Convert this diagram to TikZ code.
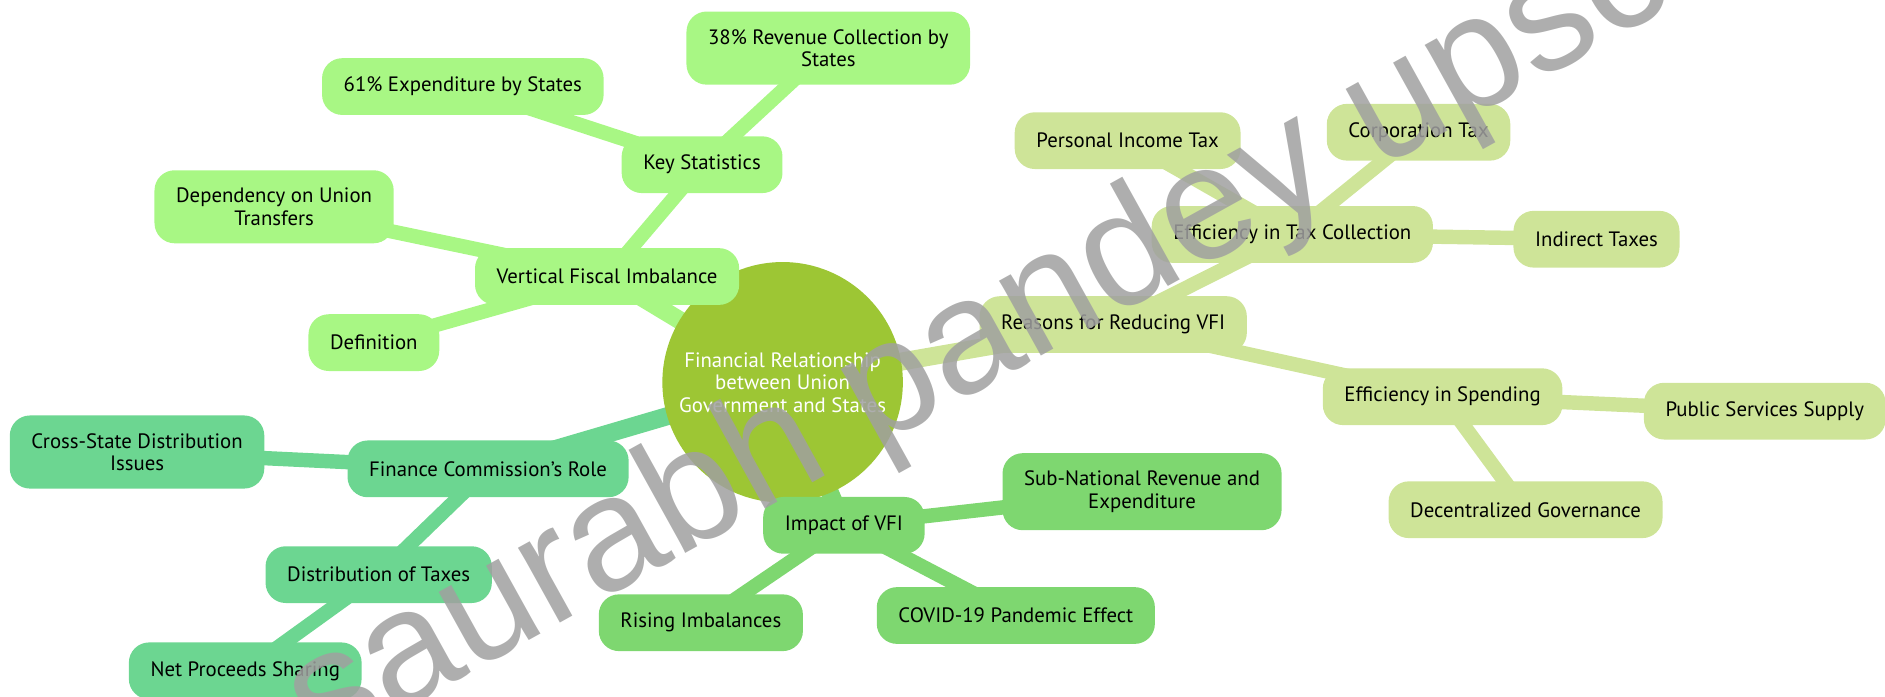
\documentclass[tikz,border=0pt]{standalone}
\usepackage{fontspec}
\setmainfont{PT Sans}
\newfontfamily\wmfont{Liberation Sans}
\usetikzlibrary{backgrounds}
\definecolor{rootc}{RGB}{157,198,52}
\definecolor{vfic}{RGB}{168,247,132}
\definecolor{reasonc}{RGB}{206,228,152}
\definecolor{fcc}{RGB}{108,214,145}
\definecolor{impactc}{RGB}{126,215,112}
\definecolor{wmgray}{RGB}{160,160,160}
\tikzset{
	topic/.style={rounded corners=0.42cm, inner xsep=0.45cm, inner ysep=0.37cm, minimum height=1.18cm, align=center, font=\fontsize{12.3}{13.3}\selectfont},
	rootnode/.style={circle, fill=rootc, minimum size=5cm, inner sep=0pt, align=center, text=white, font=\fontsize{12.3}{13.3}\selectfont},
	trunk/.style={line width=0.375cm},
	twig/.style={line width=0.3cm},
	watermark/.style={text=wmgray, opacity=0.85, rotate=29, font=\wmfont\fontsize{96}{96}\selectfont}
}

\begin{document}
\begin{tikzpicture}[x=0.025cm,y=-0.025cm]
	\useasboundingbox (0,0) rectangle (1568,579);
	
	\node[rootnode] (root) at (651,318) {Financial Relationship\\between Union\\Government and States};
	
	\node[topic, fill=vfic] (vfi) at (505,230) {Vertical Fiscal Imbalance};
	\node[topic, fill=vfic] (keystat) at (584,137) {Key Statistics};
	\node[topic, fill=vfic] (exp61) at (385,72) {61\% Expenditure by States};
	\node[topic, fill=vfic] (rev38) at (689,40) {38\% Revenue Collection by\\States};
	\node[topic, fill=vfic] (depend) at (228,172) {Dependency on Union\\Transfers};
	\node[topic, fill=vfic] (defn) at (311,285) {Definition};
	
	\node[topic, fill=reasonc] (reasons) at (926,270) {Reasons for Reducing VFI};
	\node[topic, fill=reasonc] (efftax) at (1075,195) {Efficiency in Tax Collection};
	\node[topic, fill=reasonc] (pit) at (938,117) {Personal Income Tax};
	\node[topic, fill=reasonc] (corp) at (1180,110) {Corporation Tax};
	\node[topic, fill=reasonc] (indirect) at (1328,199) {Indirect Taxes};
	\node[topic, fill=reasonc] (effspend) at (1200,330) {Efficiency in Spending};
	\node[topic, fill=reasonc] (pubserv) at (1468,342) {Public Services Supply};
	\node[topic, fill=reasonc] (decent) at (1269,424) {Decentralized Governance};
	
	\node[topic, fill=fcc] (fcrole) at (406,390) {Finance Commission's Role};
	\node[topic, fill=fcc] (crossstate) at (114,376) {Cross-State Distribution\\Issues};
	\node[topic, fill=fcc] (disttax) at (315,478) {Distribution of Taxes};
	\node[topic, fill=fcc] (netproc) at (204,558) {Net Proceeds Sharing};
	
	\node[topic, fill=impactc] (impact) at (702,437) {Impact of VFI};
	\node[topic, fill=impactc] (subnat) at (950,409) {Sub-National Revenue and\\Expenditure};
	\node[topic, fill=impactc] (covid) at (845,512) {COVID-19 Pandemic Effect};
	\node[topic, fill=impactc] (rising) at (583,518) {Rising Imbalances};
	
	\begin{pgfonlayer}{background}
		\draw[trunk, vfic] (root.center) -- (vfi.center);
		\draw[twig, vfic] (vfi.center) -- (keystat.center);
		\draw[twig, vfic] (keystat.center) -- (exp61.center);
		\draw[twig, vfic] (keystat.center) -- (rev38.center);
		\draw[twig, vfic] (vfi.center) -- (depend.center);
		\draw[twig, vfic] (vfi.center) -- (defn.center);
		
		\draw[trunk, reasonc] (root.center) -- (reasons.center);
		\draw[twig, reasonc] (reasons.center) -- (efftax.center);
		\draw[twig, reasonc] (efftax.center) -- (pit.center);
		\draw[twig, reasonc] (efftax.center) -- (corp.center);
		\draw[twig, reasonc] (efftax.center) -- (indirect.center);
		\draw[twig, reasonc] (reasons.center) -- (effspend.center);
		\draw[twig, reasonc] (effspend.center) -- (pubserv.center);
		\draw[twig, reasonc] (effspend.center) -- (decent.center);
		
		\draw[trunk, fcc] (root.center) -- (fcrole.center);
		\draw[twig, fcc] (fcrole.center) -- (crossstate.center);
		\draw[twig, fcc] (fcrole.center) -- (disttax.center);
		\draw[twig, fcc] (disttax.center) -- (netproc.center);
		
		\draw[trunk, impactc] (root.center) -- (impact.center);
		\draw[twig, impactc] (impact.center) -- (subnat.center);
		\draw[twig, impactc] (impact.center) -- (covid.center);
		\draw[twig, impactc] (impact.center) -- (rising.center);
	\end{pgfonlayer}
	
	\node[watermark] (wm) at (815,285) {saurabh pandey upsc};
\end{tikzpicture}
\end{document}
